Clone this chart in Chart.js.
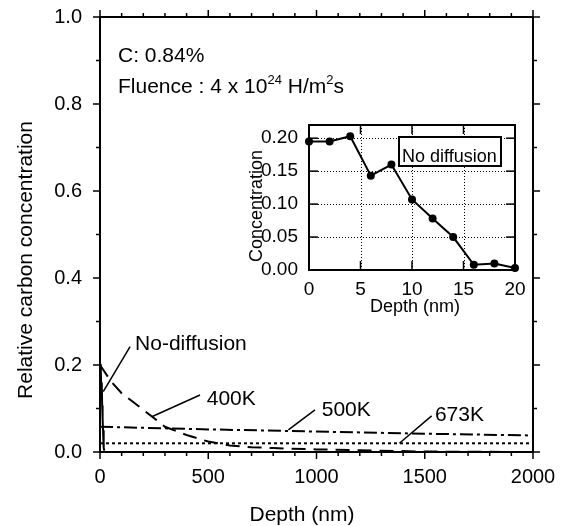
<!DOCTYPE html>
<html>
<head>
<meta charset="utf-8">
<script src="https://cdn.jsdelivr.net/npm/chart.js@4.4.0/dist/chart.umd.min.js"></script>
<style>
  html, body { margin: 0; padding: 0; background: #fff; }
  #wrap { position: relative; width: 562px; height: 526px; }
  #main { position: absolute; left: 0; top: 0; }
  #inset { position: absolute; left: 230px; top: 110px; }
</style>
</head>
<body>
<div id="wrap">
  <canvas id="main" width="562" height="526"></canvas>
  <canvas id="inset" width="300" height="210"></canvas>
</div>
<script>
// values
const noDiffDepth = [0, 2, 4, 6, 8, 10, 12, 14, 16, 18, 20];
const noDiffConc = [0.195, 0.195, 0.203, 0.143, 0.160, 0.107, 0.078, 0.050, 0.008, 0.010, 0.003];

const k400Depth = [0, 50, 100, 200, 300, 400, 500, 600, 700, 800, 1000, 1200, 1500, 2000];
const k400Conc = [0.200, 0.163, 0.135, 0.097, 0.058, 0.039, 0.024, 0.015, 0.011, 0.009, 0.006, 0.004, 0.001, 0];

const k500Depth = [0, 500, 1000, 1500, 2000];
const k500Conc = [0.058, 0.052, 0.047, 0.042, 0.038];

const k673Depth = [0, 2000];
const k673Conc = [0.020, 0.020];

// tick labels
const mainXLabels = [0, 500, 1000, 1500, 2000];
const mainYLabels = [0, 0.2, 0.4, 0.6, 0.8, 1.0];
const insetXLabels = [0, 5, 10, 15, 20];
const insetYLabels = [0, 0.05, 0.10, 0.15, 0.20];

// curve labels and their leader lines (data coords)
const curveNames = ['No-diffusion', '400K', '500K', '673K'];
const nameAt = [[162, 0.234], [493, 0.108], [1024, 0.083], [1547, 0.072]];
const leaderFrom = [[139, 0.242], [462, 0.131], [993, 0.097], [1532, 0.083]];
const leaderTo = [[15, 0.139], [239, 0.081], [870, 0.051], [1383, 0.020]];

const FONT = "'Liberation Sans', Arial, Helvetica, sans-serif";
const has = (arr, v) => arr.some(a => Math.abs(a - v) < 1e-6);
const pts = (xs, ys) => xs.map((x, i) => ({ x: x, y: ys[i] }));

function line(ctx, x1, y1, x2, y2) {
    ctx.beginPath();
    ctx.moveTo(x1, y1);
    ctx.lineTo(x2, y2);
    ctx.stroke();
}

// fixed box size, and no extra room for overhanging labels
function fitTo(w, h) {
    return s => {
        if (w != null) s.width = w;
        if (h != null) s.height = h;
        s.paddingLeft = s.paddingRight = s.paddingTop = s.paddingBottom = 0;
    };
}

const mainDecor = {
    id: 'mainDecor',
    afterDraw(chart) {
        const ctx = chart.ctx, a = chart.chartArea;
        const sx = chart.scales.x, sy = chart.scales.y;
        ctx.save();
        ctx.strokeStyle = '#000';
        ctx.fillStyle = '#000';
        ctx.lineWidth = 1.5;

        // outward ticks on all four sides
        sx.ticks.forEach(t => {
            const px = sx.getPixelForValue(t.value);
            const len = has(mainXLabels, t.value) ? 7 : 4;
            line(ctx, px, a.bottom, px, a.bottom + len);
            line(ctx, px, a.top, px, a.top - len);
        });
        sy.ticks.forEach(t => {
            const py = sy.getPixelForValue(t.value);
            const len = has(mainYLabels, t.value) ? 7 : 4;
            line(ctx, a.left, py, a.left - len, py);
            line(ctx, a.right, py, a.right + len, py);
        });

        // curve names with leaders
        ctx.font = '21px ' + FONT;
        ctx.textAlign = 'left';
        ctx.textBaseline = 'alphabetic';
        for (let i = 0; i < curveNames.length; i++) {
            ctx.fillText(curveNames[i], sx.getPixelForValue(nameAt[i][0]), sy.getPixelForValue(nameAt[i][1]));
            line(ctx, sx.getPixelForValue(leaderFrom[i][0]), sy.getPixelForValue(leaderFrom[i][1]),
                sx.getPixelForValue(leaderTo[i][0]), sy.getPixelForValue(leaderTo[i][1]));
        }

        // condition text
        let x = a.left + 18, y = a.top + 45;
        ctx.fillText('C: 0.84%', x, y);
        y = a.top + 76;
        const parts = [['Fluence : 4 x 10', 0], ['24', 1], [' H/m', 0], ['2', 1], ['s', 0]];
        parts.forEach(p => {
            ctx.font = (p[1] ? '13px ' : '21px ') + FONT;
            ctx.fillText(p[0], x, p[1] ? y - 9 : y);
            x += ctx.measureText(p[0]).width;
        });

        // axis titles
        ctx.font = '21px ' + FONT;
        ctx.textAlign = 'center';
        ctx.fillText('Depth (nm)', a.left + 202, 521);
        ctx.save();
        ctx.translate(32, a.top + 243);
        ctx.rotate(-Math.PI / 2);
        ctx.fillText('Relative carbon concentration', 0, 0);
        ctx.restore();
        ctx.restore();
    }
};

const insetDecor = {
    id: 'insetDecor',
    beforeDatasetsDraw(chart) {
        const ctx = chart.ctx, a = chart.chartArea;
        const sx = chart.scales.x, sy = chart.scales.y;
        ctx.save();
        ctx.strokeStyle = '#000';
        ctx.lineWidth = 1;
        ctx.setLineDash([1, 2]);
        insetXLabels.slice(1, -1).forEach(v => {
            const px = Math.round(sx.getPixelForValue(v)) + 0.5;
            line(ctx, px, a.top, px, a.bottom);
        });
        insetYLabels.slice(1).forEach(v => {
            const py = Math.round(sy.getPixelForValue(v)) + 0.5;
            line(ctx, a.left, py, a.right, py);
        });
        ctx.restore();
    },
    afterDraw(chart) {
        const ctx = chart.ctx, a = chart.chartArea;
        const sx = chart.scales.x, sy = chart.scales.y;
        ctx.save();
        ctx.strokeStyle = '#000';
        ctx.fillStyle = '#000';
        ctx.lineWidth = 1.5;
        // inward ticks
        insetXLabels.forEach(v => {
            const px = sx.getPixelForValue(v);
            line(ctx, px, a.bottom, px, a.bottom - 9);
            line(ctx, px, a.top, px, a.top + 9);
        });
        insetYLabels.forEach(v => {
            const py = sy.getPixelForValue(v);
            line(ctx, a.left, py, a.left + 9, py);
            line(ctx, a.right, py, a.right - 9, py);
        });

        // legend box
        ctx.lineWidth = 2;
        ctx.fillStyle = '#fff';
        ctx.fillRect(a.right - 116, a.top + 12, 102, 29);
        ctx.strokeRect(a.right - 116, a.top + 12, 102, 29);
        ctx.fillStyle = '#000';
        ctx.font = '18px ' + FONT;
        ctx.textAlign = 'left';
        ctx.textBaseline = 'alphabetic';
        ctx.fillText('No diffusion', a.right - 113, a.top + 37);

        // axis titles
        ctx.textAlign = 'center';
        ctx.fillText('Depth (nm)', a.left + 106, 202);
        ctx.save();
        ctx.translate(32, a.top + 81);
        ctx.rotate(-Math.PI / 2);
        ctx.fillText('Concentration', 0, 0);
        ctx.restore();
        ctx.restore();
    }
};

const lineSet = (xs, ys, dash) => ({
    data: pts(xs, ys),
    borderColor: '#000',
    borderWidth: 2,
    borderDash: dash,
    pointRadius: 0,
    fill: false,
    tension: 0
});

const axisBorder = { display: true, color: '#000', width: 2 };
const noGrid = { display: false, drawTicks: false };

new Chart(document.getElementById('main').getContext('2d'), {
    type: 'line',
    data: {
        datasets: [
            lineSet(noDiffDepth, noDiffConc, []),
            lineSet(k400Depth, k400Conc, [14, 8]),
            lineSet(k500Depth, k500Conc, [13, 4, 3, 4]),
            lineSet(k673Depth, k673Conc, [3, 3])
        ]
    },
    options: {
        responsive: false,
        devicePixelRatio: 1,
        animation: false,
        parsing: false,
        layout: { padding: 0 },
        plugins: { legend: { display: false }, tooltip: { enabled: false } },
        scales: {
            x: {
                type: 'linear', position: 'bottom', min: 0, max: 2000,
                grid: noGrid, border: axisBorder,
                ticks: {
                    stepSize: 100, autoSkip: false, maxRotation: 0, padding: 13,
                    color: '#000', font: { family: FONT, size: 20 },
                    callback: v => has(mainXLabels, v) ? String(v) : ''
                },
                afterFit: fitTo(null, 74)
            },
            x2: {
                type: 'linear', position: 'top', min: 0, max: 2000,
                grid: noGrid, border: axisBorder, ticks: { display: false },
                afterFit: fitTo(null, 17)
            },
            y: {
                type: 'linear', position: 'left', min: 0, max: 1,
                grid: noGrid, border: axisBorder,
                ticks: {
                    stepSize: 0.1, autoSkip: false, padding: 18,
                    color: '#000', font: { family: FONT, size: 20 },
                    callback: v => has(mainYLabels, v) ? v.toFixed(1) : ''
                },
                afterFit: fitTo(100, null)
            },
            y2: {
                type: 'linear', position: 'right', min: 0, max: 1,
                grid: noGrid, border: axisBorder, ticks: { display: false },
                afterFit: fitTo(29, null)
            }
        }
    },
    plugins: [mainDecor]
});

new Chart(document.getElementById('inset').getContext('2d'), {
    type: 'line',
    data: {
        datasets: [{
            data: pts(noDiffDepth, noDiffConc),
            borderColor: '#000',
            backgroundColor: '#000',
            borderWidth: 2,
            pointRadius: 4,
            pointBackgroundColor: '#000',
            pointBorderWidth: 0,
            clip: 8,
            tension: 0
        }]
    },
    options: {
        responsive: false,
        devicePixelRatio: 1,
        animation: false,
        parsing: false,
        layout: { padding: 0 },
        plugins: { legend: { display: false }, tooltip: { enabled: false } },
        scales: {
            x: {
                type: 'linear', position: 'bottom', min: 0, max: 20,
                grid: noGrid, border: axisBorder,
                afterBuildTicks: s => { s.ticks = insetXLabels.map(v => ({ value: v })); },
                ticks: {
                    autoSkip: false, maxRotation: 0, padding: 8,
                    color: '#000', font: { family: FONT, size: 19 },
                    callback: v => String(v)
                },
                afterFit: fitTo(null, 50)
            },
            x2: {
                type: 'linear', position: 'top', min: 0, max: 20,
                grid: noGrid, border: axisBorder, ticks: { display: false },
                afterFit: fitTo(null, 15)
            },
            y: {
                type: 'linear', position: 'left', min: 0, max: 0.22,
                grid: noGrid, border: axisBorder,
                afterBuildTicks: s => { s.ticks = insetYLabels.map(v => ({ value: v })); },
                ticks: {
                    autoSkip: false, padding: 11,
                    color: '#000', font: { family: FONT, size: 19 },
                    callback: v => v.toFixed(2)
                },
                afterFit: fitTo(79, null)
            },
            y2: {
                type: 'linear', position: 'right', min: 0, max: 0.22,
                grid: noGrid, border: axisBorder, ticks: { display: false },
                afterFit: fitTo(15, null)
            }
        }
    },
    plugins: [insetDecor]
});
</script>
</body>
</html>
